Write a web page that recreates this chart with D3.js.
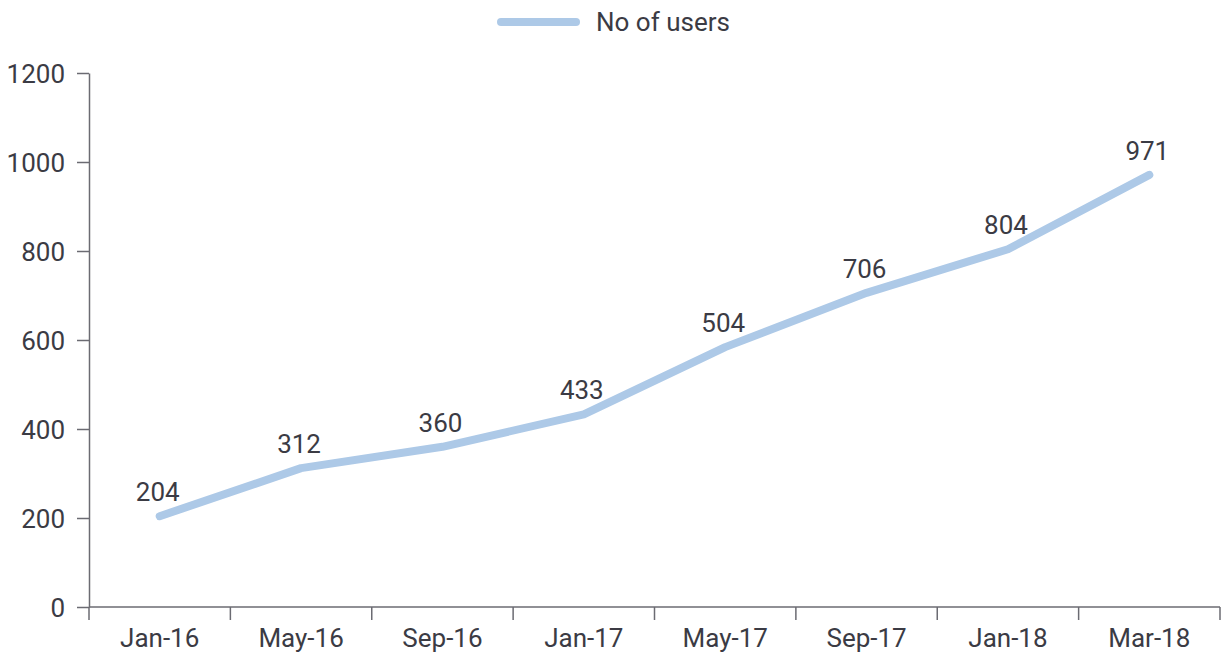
<!DOCTYPE html>
<html>
<head>
<meta charset="utf-8">
<script src="https://cdn.jsdelivr.net/npm/d3@7"></script>
<style>
  body { margin: 0; background: #fff; }
  text { font-family: Roboto, "Noto Sans", sans-serif; fill: #3b3b44; }
</style>
</head>
<body>
<div id="chart"></div>
<script>
// Chart data
const months = ["Jan-16", "May-16", "Sep-16", "Jan-17", "May-17", "Sep-17", "Jan-18", "Mar-18"];
const users = [204, 312, 360, 433, 584, 706, 804, 971];
// the printed labels (May-17 is printed as 504 in the source)
const labels = ["204", "312", "360", "433", "504", "706", "804", "971"];
const yTicks = [0, 200, 400, 600, 800, 1000, 1200];
const seriesName = "No of users";

const width = 1223;
const height = 653;
const margin = { top: 73, right: 3, bottom: 46, left: 89 };
const fontSize = "26px";

const svg = d3.select("#chart")
  .append("svg")
  .attr("width", width)
  .attr("height", height);

// band scale so the points sit in the middle of each category
const x = d3.scaleBand()
  .domain(months)
  .range([margin.left, width - margin.right]);

const y = d3.scaleLinear()
  .domain([0, 1200])
  .range([height - margin.bottom, margin.top]);

const axisColor = "#6b6b72";

// y axis
const yAxis = svg.append("g")
  .attr("transform", `translate(${margin.left},0)`)
  .call(d3.axisLeft(y).tickValues(yTicks).tickFormat(d3.format("d"))
    .tickSize(12).tickPadding(12).tickSizeOuter(0));
yAxis.select(".domain").attr("stroke", axisColor).attr("stroke-width", 1.5);
yAxis.selectAll(".tick line").attr("stroke", axisColor).attr("stroke-width", 1.5);
yAxis.selectAll(".tick text")
  .style("font-size", fontSize)
  .attr("dy", "0.35em");

// x axis: ticks at band edges, labels in the band centers
const xAxis = svg.append("g")
  .attr("transform", `translate(0,${height - margin.bottom})`);
xAxis.append("line")
  .attr("x1", margin.left).attr("x2", width - margin.right)
  .attr("stroke", axisColor).attr("stroke-width", 1.5);

const edges = months.map(m => x(m)).concat([x.range()[1]]);
xAxis.selectAll("line.tick")
  .data(edges)
  .enter()
  .append("line")
  .attr("class", "tick")
  .attr("x1", d => d).attr("x2", d => d)
  .attr("y1", 0).attr("y2", 13)
  .attr("stroke", axisColor).attr("stroke-width", 1.5);

xAxis.selectAll("text")
  .data(months)
  .enter()
  .append("text")
  .attr("x", d => x(d) + x.bandwidth() / 2)
  .attr("y", 40)
  .attr("text-anchor", "middle")
  .style("font-size", fontSize)
  .text(d => d);

// the line
const line = d3.line()
  .x((d, i) => x(months[i]) + x.bandwidth() / 2)
  .y(d => y(d));

svg.append("path")
  .datum(users)
  .attr("d", line)
  .attr("fill", "none")
  .attr("stroke", "#adc9e7")
  .attr("stroke-width", 8)
  .attr("stroke-linecap", "round")
  .attr("stroke-linejoin", "round");

// value labels above each point
svg.selectAll("text.value")
  .data(users)
  .enter()
  .append("text")
  .attr("class", "value")
  .attr("x", (d, i) => x(months[i]) + x.bandwidth() / 2 - 2)
  .attr("y", d => y(d) - 15)
  .attr("text-anchor", "middle")
  .style("font-size", fontSize)
  .text((d, i) => labels[i]);

// legend at the top
const legend = svg.append("g");
legend.append("line")
  .attr("x1", 501).attr("x2", 576)
  .attr("y1", 22).attr("y2", 22)
  .attr("stroke", "#adc9e7")
  .attr("stroke-width", 8)
  .attr("stroke-linecap", "round");
legend.append("text")
  .attr("x", 596)
  .attr("y", 31)
  .style("font-size", fontSize)
  .text(seriesName);
</script>
</body>
</html>
